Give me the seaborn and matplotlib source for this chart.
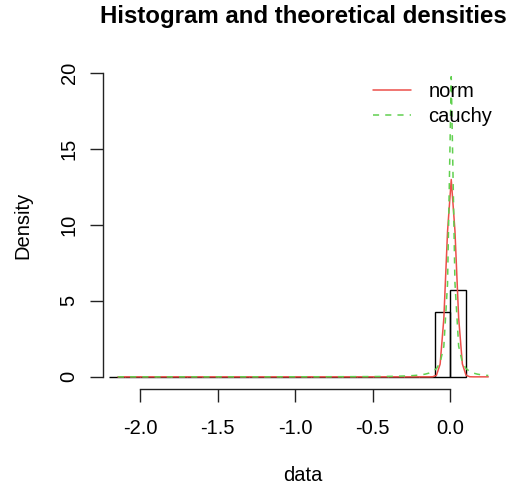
import numpy as np
import pandas as pd
import matplotlib
matplotlib.use("Agg")
import matplotlib.pyplot as plt
import seaborn as sns

# histogram (density scale), bins of width 0.1 from -2.2 to 0.1
bin_edges = [round(-2.2 + 0.1 * i, 2) for i in range(24)]
bin_density = [0.02, 0, 0, 0, 0, 0, 0, 0, 0, 0, 0, 0, 0, 0, 0, 0, 0, 0, 0, 0, 0,
               4.25, 5.75]

# fitted distributions
norm_mean, norm_sd = 0.008, 0.0307
cauchy_loc, cauchy_scale = 0.008, 0.0161
x_range = (-2.144, 0.247)

def main():
    sns.set_style("white")
    plt.rcParams['font.family'] = ['Liberation Sans', 'DejaVu Sans']
    plt.rcParams['text.color'] = 'black'
    plt.rcParams['axes.labelcolor'] = 'black'
    plt.rcParams['xtick.color'] = 'black'
    plt.rcParams['ytick.color'] = 'black'

    fig = plt.figure(figsize=(5.12, 4.9), dpi=100)
    ax = fig.add_axes([103 / 512, 1 - 389 / 490, 400 / 512, 328 / 490])

    edges = np.array(bin_edges)
    centers = (edges[:-1] + edges[1:]) / 2
    hist_df = pd.DataFrame({'data': centers, 'w': bin_density})
    sns.histplot(data=hist_df, x='data', weights='w', bins=bin_edges, fill=False,
                 color='black', linewidth=1.0, ax=ax)

    xs = np.linspace(x_range[0], x_range[1], 101)
    norm_y = np.exp(-0.5 * ((xs - norm_mean) / norm_sd) ** 2) / (norm_sd * np.sqrt(2 * np.pi))
    cauchy_y = 1 / (np.pi * cauchy_scale * (1 + ((xs - cauchy_loc) / cauchy_scale) ** 2))
    curves = pd.DataFrame({'x': xs, 'norm': norm_y, 'cauchy': cauchy_y})

    sns.lineplot(data=curves, x='x', y='norm', color='#EC4F4A', linewidth=1.1,
                 label='norm', ax=ax)
    sns.lineplot(data=curves, x='x', y='cauchy', color='#61D04F', linewidth=1.1,
                 label='cauchy', ax=ax)
    ax.lines[-1].set_dashes((4, 4))

    ax.set_xlim(-2.24, 0.342)
    ax.set_ylim(-0.8, 20.8)
    ax.set_xticks([-2.0, -1.5, -1.0, -0.5, 0.0])
    ax.set_xticklabels(['-2.0', '-1.5', '-1.0', '-0.5', '0.0'])
    ax.set_yticks([0, 5, 10, 15, 20])
    ax.set_yticklabels(['0', '5', '10', '15', '20'], rotation=90, va='center')

    for s in ['top', 'right']:
        ax.spines[s].set_visible(False)
    ax.spines['left'].set_bounds(0, 20)
    ax.spines['bottom'].set_bounds(-2, 0)
    for s in ['left', 'bottom']:
        ax.spines[s].set_color('#222222')
        ax.spines[s].set_linewidth(1.0)
    ax.tick_params(axis='both', direction='out', length=9.5, width=1.0,
                   color='#222222', labelsize=14.5, left=True, bottom=True)
    ax.tick_params(axis='y', pad=8)
    ax.tick_params(axis='x', pad=12)

    ax.set_xlabel('data', fontsize=14.5, labelpad=20)
    ax.set_ylabel('Density', fontsize=14.5, labelpad=20)
    fig.suptitle('Histogram and theoretical densities', fontsize=17.3,
                 fontweight='bold', x=303 / 512, y=1 - 16 / 490, va='center')

    handles = ax.lines[-2:]
    ax.legend(handles=handles, labels=['norm', 'cauchy'], loc='upper left',
              bbox_to_anchor=(373 / 512, 1 - 82 / 490), bbox_transform=fig.transFigure,
              frameon=False, fontsize=14.5, handlelength=1.9, handletextpad=0.85,
              labelspacing=0.28, borderpad=0, borderaxespad=0)

    fig.savefig('out.png', dpi=100)
    plt.close(fig)

if __name__ == '__main__':
    main()
